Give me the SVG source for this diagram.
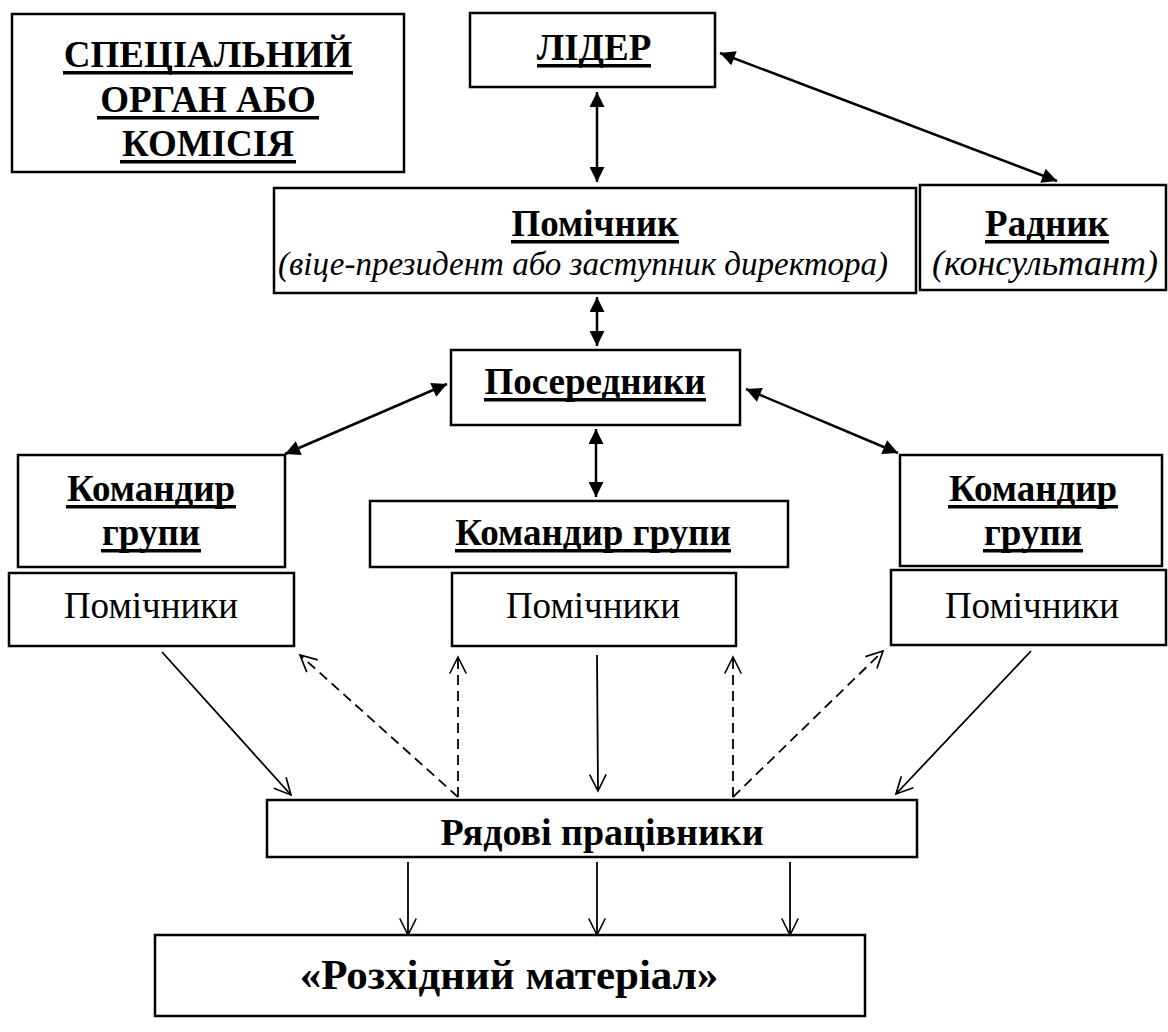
<svg xmlns="http://www.w3.org/2000/svg" width="1168" height="1032" viewBox="0 0 1168 1032">
<style>
.box{fill:#fff;stroke:#000;stroke-width:2.5}
text{font-family:'Liberation Serif','Times New Roman',serif;font-size:37px;text-anchor:middle;fill:#000}
.b{font-weight:bold}
.i{font-style:italic;font-size:33px}
.u{fill:#000}
.da{stroke:#000;stroke-width:2.5;fill:none;marker-start:url(#fa);marker-end:url(#fa)}
.sa{stroke:#000;stroke-width:1.8;fill:none;marker-end:url(#oa)}
.ds{stroke:#000;stroke-width:1.8;fill:none;stroke-dasharray:10,6;marker-end:url(#oa)}
</style>
<defs>
<marker id="fa" viewBox="0 0 10 10" refX="10" refY="5" markerWidth="18" markerHeight="15" markerUnits="userSpaceOnUse" orient="auto-start-reverse"><path d="M0,0 L10,5 L0,10 z" fill="#000"/></marker>
<marker id="oa" viewBox="0 0 12 12" refX="11" refY="6" markerWidth="22" markerHeight="18" markerUnits="userSpaceOnUse" orient="auto"><path d="M0,0.5 L11,6 L0,11.5" fill="none" stroke="#000" stroke-width="1.1"/></marker>
</defs>
<rect width="1168" height="1032" fill="#fff"/>
<g id="special"><rect class="box" x="12" y="14" width="392" height="158"/>
<text class="b" x="208" y="67">СПЕЦІАЛЬНИЙ</text><rect class="u" x="63" y="71" width="290" height="3.5"/>
<text class="b" x="208" y="112">ОРГАН АБО</text><rect class="u" x="97" y="116" width="222" height="3.5"/>
<text class="b" x="208" y="156">КОМІСІЯ</text><rect class="u" x="120" y="160" width="176" height="3.5"/></g>
<g id="leader"><rect class="box" x="470" y="13" width="245" height="74"/>
<text class="b" x="594" y="60">ЛІДЕР</text><rect class="u" x="537" y="64" width="114" height="3.5"/></g>
<g id="assistant"><rect class="box" x="274" y="188" width="642" height="105"/>
<text class="b" x="595" y="236">Помічник</text><rect class="u" x="511" y="240" width="168" height="3.5"/>
<text class="i" x="583" y="275">(віце-президент або заступник директора)</text></g>
<g id="adviser"><rect class="box" x="920" y="185" width="246" height="105"/>
<text class="b" x="1047" y="236">Радник</text><rect class="u" x="985" y="240" width="124" height="3.5"/>
<text class="i" x="1045" y="275" style="font-size:36px">(консультант)</text></g>
<g id="mediators"><rect class="box" x="451" y="350" width="289" height="75"/>
<text class="b" x="595" y="394">Посередники</text><rect class="u" x="484" y="398" width="222" height="3.5"/></g>
<g id="cmd-left"><rect class="box" x="18" y="455" width="267" height="112"/>
<text class="b" x="151" y="501">Командир</text><rect class="u" x="66" y="505" width="170" height="3.5"/>
<text class="b" x="151" y="545">групи</text><rect class="u" x="101" y="549" width="100" height="3.5"/></g>
<g id="cmd-center"><rect class="box" x="370" y="501" width="418" height="66"/>
<text class="b" x="593" y="545">Командир групи</text><rect class="u" x="455" y="549" width="276" height="3.5"/></g>
<g id="cmd-right"><rect class="box" x="900" y="455" width="262" height="111"/>
<text class="b" x="1033" y="501">Командир</text><rect class="u" x="948" y="505" width="170" height="3.5"/>
<text class="b" x="1033" y="545">групи</text><rect class="u" x="983" y="549" width="100" height="3.5"/></g>
<g id="asst-left"><rect class="box" x="9" y="573" width="285" height="73"/>
<text x="151" y="618">Помічники</text></g>
<g id="asst-center"><rect class="box" x="452" y="573" width="284" height="73"/>
<text x="593" y="618">Помічники</text></g>
<g id="asst-right"><rect class="box" x="891" y="570" width="275" height="75"/>
<text x="1032" y="618">Помічники</text></g>
<g id="workers"><rect class="box" x="267" y="800" width="650" height="57"/>
<text class="b" x="602" y="845" style="font-size:38px">Рядові працівники</text></g>
<g id="material"><rect class="box" x="155" y="935" width="710" height="81"/>
<text class="b" x="509" y="989" style="font-size:43px">«Розхідний матеріал»</text></g>
<g id="connectors">
<line class="da" x1="597" y1="92" x2="597" y2="182"/>
<line class="da" x1="720" y1="53" x2="1057" y2="181"/>
<line class="da" x1="597" y1="297" x2="597" y2="346"/>
<line class="da" x1="447" y1="384" x2="285" y2="454"/>
<line class="da" x1="746" y1="389" x2="898" y2="453"/>
<line class="da" x1="596" y1="429" x2="596" y2="497"/>
<line class="sa" x1="162" y1="652" x2="291" y2="795"/>
<line class="sa" x1="597" y1="655" x2="598" y2="791"/>
<line class="sa" x1="1031" y1="651" x2="896" y2="794"/>
<line class="ds" x1="458" y1="797" x2="300" y2="655"/>
<line class="ds" x1="458" y1="797" x2="458" y2="657"/>
<line class="ds" x1="733" y1="797" x2="733" y2="657"/>
<line class="ds" x1="733" y1="797" x2="883" y2="651"/>
<line class="sa" x1="408" y1="862" x2="408" y2="935"/>
<line class="sa" x1="597" y1="862" x2="597" y2="935"/>
<line class="sa" x1="790" y1="862" x2="790" y2="935"/>
</g>
</svg>
